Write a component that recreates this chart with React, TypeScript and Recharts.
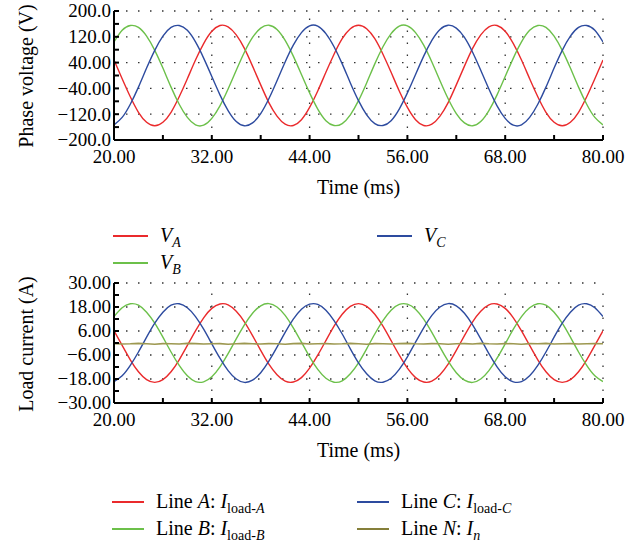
import React from 'react';
import { LineChart, Line, XAxis, YAxis, ReferenceLine, Legend, Label } from 'recharts';

// ---------- data ----------
const timeMs = [
  20, 21, 22, 23, 24, 25, 26, 27, 28, 29, 30, 31, 32, 33, 34, 35, 36, 37, 38, 39, 40,
  41, 42, 43, 44, 45, 46, 47, 48, 49, 50, 51, 52, 53, 54, 55, 56, 57, 58, 59, 60,
  61, 62, 63, 64, 65, 66, 67, 68, 69, 70, 71, 72, 73, 74, 75, 76, 77, 78, 79, 80,
];

const phaseVoltageA = [
  48, -10, -66, -114, -145, -156, -145, -114, -66, -10, 48, 99, 137, 155,
  151, 126, 84, 29, -29, -84, -126, -151, -155, -137, -99, -48, 10, 66, 114, 145,
  156, 145, 114, 66, 10, -48, -99, -137, -155, -151, -126, -84, -29, 29, 84, 126, 151,
  155, 137, 99,
  48, -10, -66, -114, -145, -156, -145, -114, -66, -10, 48,
];
const phaseVoltageB = [
  104, 140, 155, 149, 122, 78, 23, -36, -89, -130, -153, -154, -133, -94,
  -42, 16, 72, 118, 147, 156, 143, 109, 60, 3, -54, -104, -140, -155, -149, -122,
  -78, -23, 36, 89, 130, 153, 154, 133, 94, 42, -16, -72, -118, -147, -156, -143, -109,
  -60, -3, 54,
  104, 140, 155, 149, 122, 78, 23, -36, -89, -130, -153,
];
const phaseVoltageC = [
  -153, -130, -89, -36, 23, 78, 122, 149, 155, 140, 104, 54, -3, -60,
  -109, -143, -156, -147, -118, -72, -16, 42, 94, 133, 154, 153, 130, 89, 36, -23,
  -78, -122, -149, -155, -140, -104, -54, 3, 60, 109, 143, 156, 147, 118, 72, 16, -42,
  -94, -133, -154,
  -153, -130, -89, -36, 23, 78, 122, 149, 155, 140, 104,
];

const loadCurrentA = [
  6.1, -1.2, -8.4, -14.4, -18.3, -19.7, -18.3, -14.4, -8.4, -1.2, 6.1, 12.6, 17.3, 19.5,
  19.1, 15.9, 10.6, 3.7, -3.7, -10.6, -15.9, -19.1, -19.5, -17.3, -12.6, -6.1, 1.2, 8.4, 14.4, 18.3,
  19.7, 18.3, 14.4, 8.4, 1.2, -6.1, -12.6, -17.3, -19.5, -19.1, -15.9, -10.6, -3.7, 3.7, 10.6, 15.9, 19.1,
  19.5, 17.3, 12.6,
  6.1, -1.2, -8.4, -14.4, -18.3, -19.7, -18.3, -14.4, -8.4, -1.2, 6.1,
];
const loadCurrentB = [
  13.2, 17.6, 19.6, 18.9, 15.4, 9.9, 2.9, -4.5, -11.2, -16.4, -19.3, -19.4, -16.9, -11.9,
  -5.3, 2.1, 9.1, 14.9, 18.6, 19.7, 18.0, 13.8, 7.6, 0.4, -6.9, -13.2, -17.6, -19.6, -18.9, -15.4,
  -9.9, -2.9, 4.5, 11.2, 16.4, 19.3, 19.4, 16.9, 11.9, 5.3, -2.1, -9.1, -14.9, -18.6, -19.7, -18.0, -13.8,
  -7.6, -0.4, 6.9,
  13.2, 17.6, 19.6, 18.9, 15.4, 9.9, 2.9, -4.5, -11.2, -16.4, -19.3,
];
const loadCurrentC = [
  -19.3, -16.4, -11.2, -4.5, 2.9, 9.9, 15.4, 18.9, 19.6, 17.6, 13.2, 6.9, -0.4, -7.6,
  -13.8, -18.0, -19.7, -18.6, -14.9, -9.1, -2.1, 5.3, 11.9, 16.9, 19.4, 19.3, 16.4, 11.2, 4.5, -2.9,
  -9.9, -15.4, -18.9, -19.6, -17.6, -13.2, -6.9, 0.4, 7.6, 13.8, 18.0, 19.7, 18.6, 14.9, 9.1, 2.1, -5.3,
  -11.9, -16.9, -19.4,
  -19.3, -16.4, -11.2, -4.5, 2.9, 9.9, 15.4, 18.9, 19.6, 17.6, 13.2,
];
const neutralCurrent = [
  -0.3, -0.5, -0.4, -0.2, -0.4, -0.6, -0.3, -0.4, -0.5, -0.2,
  -0.3, -0.5, -0.4, -0.3, -0.6, -0.4, -0.2, -0.4, -0.5, -0.3,
  -0.4, -0.6, -0.3, -0.2, -0.5, -0.4, -0.3, -0.5, -0.4, -0.2,
  -0.4, -0.6, -0.3, -0.4, -0.5, -0.3, -0.2, -0.4, -0.5, -0.3,
  -0.4, -0.6, -0.4, -0.3, -0.5, -0.2, -0.4, -0.5, -0.3, -0.4,
  -0.6, -0.3, -0.4, -0.2, -0.5, -0.4, -0.3, -0.5, -0.4, -0.3,
  -0.4,
];

// ---------- ticks ----------
const timeTicks = [20, 26, 32, 38, 44, 50, 56, 62, 68, 74, 80];
const timeMajorTicks = [20, 32, 44, 56, 68, 80];
const timeTickLabels = ['20.00', '32.00', '44.00', '56.00', '68.00', '80.00'];
const timeGridValues = [32, 44, 56, 68, 80];

const voltageTicks = [-200, -160, -120, -80, -40, 0, 40, 80, 120, 160, 200];
const voltageMajorTicks = [200, 120, 40, -40, -120, -200];
const voltageTickLabels = ['200.0', '120.0', '40.00', '\u221240.00', '\u2212120.0', '\u2212200.0'];
const voltageGridValues = [200, 120, 40, -40, -120];

const currentTicks = [-30, -24, -18, -12, -6, 0, 6, 12, 18, 24, 30];
const currentMajorTicks = [30, 18, 6, -6, -18, -30];
const currentTickLabels = ['30.00', '18.00', '6.00', '\u22126.00', '\u221218.00', '\u221230.00'];
const currentGridValues = [30, 18, 6, -6, -18];

// ---------- styling ----------
const FONT = '"Liberation Serif", "Times New Roman", Times, serif';
const TICK_FONT_SIZE = 19;
const RED = '#ea2a2c';
const GREEN = '#6cc04a';
const BLUE = '#2d4b9f';
const OLIVE = '#857f3a';
const W = 643;
const PLOT_LEFT = 114;
const PLOT_RIGHT = 603;
const CHART2_TOP = 262;

const voltageRows = timeMs.map((t, i) => ({
  t,
  va: phaseVoltageA[i],
  vb: phaseVoltageB[i],
  vc: phaseVoltageC[i],
}));
const currentRows = timeMs.map((t, i) => ({
  t,
  ia: loadCurrentA[i],
  ib: loadCurrentB[i],
  ic: loadCurrentC[i],
  in: neutralCurrent[i],
}));

const makeXTick = (majors: number[], labels: string[]) => (props: any) => {
  const { x, y, payload } = props;
  const i = majors.indexOf(payload.value);
  return (
    <g>
      <line x1={x} y1={y} x2={x} y2={y - 5} stroke="#000" strokeWidth={2} />
      {i >= 0 && (
        <text x={x} y={y + 23} textAnchor="middle" fontFamily={FONT} fontSize={TICK_FONT_SIZE} fill="#000">
          {labels[i]}
        </text>
      )}
    </g>
  );
};

const makeYTick = (majors: number[], labels: string[]) => (props: any) => {
  const { x, y, payload } = props;
  const i = majors.indexOf(payload.value);
  return (
    <g>
      <line x1={x} y1={y} x2={x + 5} y2={y} stroke="#000" strokeWidth={2} />
      {i >= 0 && (
        <text x={x - 3} y={y} dy="0.34em" textAnchor="end" fontFamily={FONT} fontSize={TICK_FONT_SIZE} fill="#000">
          {labels[i]}
        </text>
      )}
    </g>
  );
};

const makeYLabel = (text: string, cy: number) => () => (
  <text
    x={26}
    y={cy}
    transform={`rotate(-90 26 ${cy})`}
    textAnchor="middle"
    dominantBaseline="central"
    fontFamily={FONT}
    fontSize={20}
    fill="#000"
  >
    {text}
  </text>
);

const Sub = ({ children }: { children: React.ReactNode }) => (
  <span style={{ fontSize: 14, position: 'relative', top: 5 }}>{children}</span>
);

type LegendEntry = { color: string; col: number; row: number; label: React.ReactNode };

const voltageLegend: LegendEntry[] = [
  { color: RED, col: 0, row: 0, label: <><i>V</i><Sub><i>A</i></Sub></> },
  { color: GREEN, col: 0, row: 1, label: <><i>V</i><Sub><i>B</i></Sub></> },
  { color: BLUE, col: 1, row: 0, label: <><i>V</i><Sub><i>C</i></Sub></> },
];
const currentLegend: LegendEntry[] = [
  { color: RED, col: 0, row: 0, label: <>Line <i>A</i>: <i>I</i><Sub>load-<i>A</i></Sub></> },
  { color: GREEN, col: 0, row: 1, label: <>Line <i>B</i>: <i>I</i><Sub>load-<i>B</i></Sub></> },
  { color: BLUE, col: 1, row: 0, label: <>Line <i>C</i>: <i>I</i><Sub>load-<i>C</i></Sub></> },
  { color: OLIVE, col: 1, row: 1, label: <>Line <i>N</i>: <i>I</i><Sub><i>n</i></Sub></> },
];

const renderLegend = (
  entries: LegendEntry[],
  top: number,
  colX: number[],
  lineLen: number,
  gap: number,
) => () => (
  <div style={{ position: 'relative', width: W, height: 60 }}>
    {entries.map((e, k) => (
      <div
        key={k}
        style={{
          position: 'absolute',
          left: colX[e.col],
          top: top + e.row * 27 - 14,
          height: 28,
          display: 'flex',
          alignItems: 'center',
          whiteSpace: 'nowrap',
        }}
      >
        <span style={{ display: 'inline-block', width: lineLen, height: 2.5, background: e.color, marginRight: gap }} />
        <span style={{ fontFamily: FONT, fontSize: 20, lineHeight: '28px', color: '#000' }}>{e.label}</span>
      </div>
    ))}
  </div>
);

const gridStroke = { stroke: '#333', strokeDasharray: '1.5 10.5', strokeWidth: 1.3 };

function VoltageChart() {
  const h = 262;
  return (
    <LineChart
      width={W}
      height={h}
      data={voltageRows}
      margin={{ top: 11, right: W - PLOT_RIGHT, bottom: h - 140 - 30, left: PLOT_LEFT - 50 }}
    >
      {voltageGridValues.map((v) => (
        <ReferenceLine key={'h' + v} y={v} {...gridStroke} />
      ))}
      {timeGridValues.map((v) => (
        <ReferenceLine key={'v' + v} x={v} {...gridStroke} />
      ))}
      <XAxis
        dataKey="t"
        type="number"
        domain={[20, 80]}
        ticks={timeTicks}
        interval={0}
        height={30}
        tickSize={0}
        tickMargin={0}
        tickLine={false}
        axisLine={{ stroke: '#000', strokeWidth: 2 }}
        tick={makeXTick(timeMajorTicks, timeTickLabels)}
        allowDataOverflow
      >
        <Label value="Time (ms)" position="bottom" offset={10} fontSize={20} fontFamily={FONT} fill="#000" />
      </XAxis>
      <YAxis
        type="number"
        domain={[-200, 200]}
        ticks={voltageTicks}
        interval={0}
        width={50}
        tickSize={0}
        tickMargin={0}
        tickLine={false}
        axisLine={{ stroke: '#000', strokeWidth: 2 }}
        tick={makeYTick(voltageMajorTicks, voltageTickLabels)}
        allowDataOverflow
      >
        <Label content={makeYLabel('Phase voltage (V)', 76)} />
      </YAxis>
      <Line dataKey="va" name="VA" type="natural" stroke={RED} strokeWidth={1.4} dot={false} isAnimationActive={false} />
      <Line dataKey="vb" name="VB" type="natural" stroke={GREEN} strokeWidth={1.4} dot={false} isAnimationActive={false} />
      <Line dataKey="vc" name="VC" type="natural" stroke={BLUE} strokeWidth={1.4} dot={false} isAnimationActive={false} />
      <Legend
        layout="vertical"
        align="center"
        verticalAlign="middle"
        wrapperStyle={{ top: 0, left: 0, width: W, height: 60, marginTop: 222 }}
        content={renderLegend(voltageLegend, 14, [113, 377], 35, 12)}
      />
    </LineChart>
  );
}

function CurrentChart() {
  const h = 544 - CHART2_TOP;
  const plotTop = 283 - CHART2_TOP;
  const plotBottom = 403 - CHART2_TOP;
  return (
    <LineChart
      width={W}
      height={h}
      data={currentRows}
      margin={{ top: plotTop, right: W - PLOT_RIGHT, bottom: h - plotBottom - 30, left: PLOT_LEFT - 50 }}
    >
      {currentGridValues.map((v) => (
        <ReferenceLine key={'h' + v} y={v} {...gridStroke} />
      ))}
      {timeGridValues.map((v) => (
        <ReferenceLine key={'v' + v} x={v} {...gridStroke} />
      ))}
      <XAxis
        dataKey="t"
        type="number"
        domain={[20, 80]}
        ticks={timeTicks}
        interval={0}
        height={30}
        tickSize={0}
        tickMargin={0}
        tickLine={false}
        axisLine={{ stroke: '#000', strokeWidth: 2 }}
        tick={makeXTick(timeMajorTicks, timeTickLabels)}
        allowDataOverflow
      >
        <Label value="Time (ms)" position="bottom" offset={10} fontSize={20} fontFamily={FONT} fill="#000" />
      </XAxis>
      <YAxis
        type="number"
        domain={[-30, 30]}
        ticks={currentTicks}
        interval={0}
        width={50}
        tickSize={0}
        tickMargin={0}
        tickLine={false}
        axisLine={{ stroke: '#000', strokeWidth: 2 }}
        tick={makeYTick(currentMajorTicks, currentTickLabels)}
        allowDataOverflow
      >
        <Label content={makeYLabel('Load current (A)', 344 - CHART2_TOP)} />
      </YAxis>
      <Line dataKey="ia" name="IA" type="natural" stroke={RED} strokeWidth={1.4} dot={false} isAnimationActive={false} />
      <Line dataKey="ib" name="IB" type="natural" stroke={GREEN} strokeWidth={1.4} dot={false} isAnimationActive={false} />
      <Line dataKey="ic" name="IC" type="natural" stroke={BLUE} strokeWidth={1.4} dot={false} isAnimationActive={false} />
      <Line dataKey="in" name="IN" type="linear" stroke="#9d9850" strokeWidth={1.6} dot={false} isAnimationActive={false} />
      <Legend
        layout="vertical"
        align="center"
        verticalAlign="middle"
        wrapperStyle={{ top: 0, left: 0, width: W, height: 60, marginTop: 488 - CHART2_TOP }}
        content={renderLegend(currentLegend, 14, [112, 357], 32, 12)}
      />
    </LineChart>
  );
}

export default function App() {
  return (
    <div style={{ position: 'absolute', left: 0, top: 0, width: W, height: 544, background: '#fff', overflow: 'hidden' }}>
      <div style={{ position: 'absolute', left: 0, top: 0 }}>
        <VoltageChart />
      </div>
      <div style={{ position: 'absolute', left: 0, top: CHART2_TOP }}>
        <CurrentChart />
      </div>
    </div>
  );
}
